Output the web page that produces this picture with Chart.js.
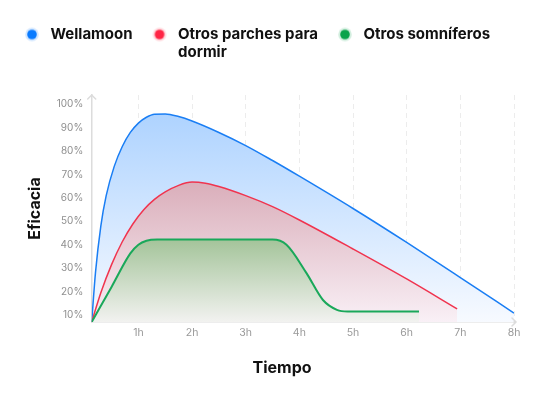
<!DOCTYPE html>
<html lang="es">
<head>
<meta charset="utf-8">
<title>Eficacia</title>
<script src="https://cdn.jsdelivr.net/npm/chart.js@4.4.1/dist/chart.umd.min.js"></script>
<style>
  html, body { margin: 0; padding: 0; background: #ffffff; }
  #wrap { width: 550px; height: 396px; position: relative; }
</style>
</head>
<body>
<div id="wrap"><canvas id="efficacyChart"></canvas></div>
<script>
// hours after taking it / efficacy in %
const wellamoonHours = [0.13, 0.2, 0.3, 0.4, 0.55, 0.7, 0.85, 1.0, 1.15, 1.3, 1.5, 1.75, 2, 2.5, 3, 3.5, 4, 5, 6, 7, 8];
const wellamoonValues = [7, 28, 48, 61, 73.5, 82, 88, 92, 94.5, 95.8, 95.9, 94.8, 92.9, 88, 82.4, 76, 69.3, 55.5, 41, 26, 10.8];

const patchHours = [0.13, 0.3, 0.5, 0.7, 0.9, 1.1, 1.3, 1.5, 1.75, 2, 2.25, 2.5, 3, 3.5, 4, 5, 6, 6.94];
const patchValues = [7, 19.5, 31.5, 41.3, 49, 55, 59.4, 62.6, 65.4, 66.8, 66.3, 64.9, 61, 56.3, 50.6, 38.2, 25.4, 12.6];

const pillHours = [0.13, 0.5, 0.85, 1.0, 1.15, 1.35, 3.5, 3.76, 4.13, 4.44, 4.7, 4.9, 6.23];
const pillValues = [7, 22, 36.3, 40, 41.7, 42.2, 42.2, 40, 28, 16.4, 12.2, 11.5, 11.5];

// the second label runs over two lines; it is measured by its longest line
const patchLabel = ['Otros parches para', 'dormir'];
patchLabel.toString = () => 'Otros parches para';
const seriesLabels = ['Wellamoon', patchLabel, 'Otros somníferos'];
const hourTicks = [1, 2, 3, 4, 5, 6, 7, 8];
const percentTicks = [10, 20, 30, 40, 50, 60, 70, 80, 90, 100];

const toPoints = (xs, ys) => xs.map((x, i) => ({ x: x, y: ys[i] }));

// legend dot with a soft halo
const makeDot = (color, halo) => {
    const c = document.createElement('canvas');
    c.width = 16; c.height = 16;
    const g = c.getContext('2d');
    g.fillStyle = halo;
    g.beginPath(); g.arc(8, 8, 6.8, 0, Math.PI * 2); g.fill();
    g.fillStyle = color;
    g.beginPath(); g.arc(8, 8, 4.8, 0, Math.PI * 2); g.fill();
    return c;
};

// vertical gradient from the top of a series down to the axis
const areaFill = (values, topColor, bottomColor) => (context) => {
    const chart = context.chart;
    const { ctx, chartArea, scales } = chart;
    if (!chartArea) return topColor;
    const top = scales.y.getPixelForValue(Math.max(...values));
    const grad = ctx.createLinearGradient(0, top, 0, chartArea.bottom);
    grad.addColorStop(0, topColor);
    grad.addColorStop(1, bottomColor);
    return grad;
};

const legendSpace = {
    id: 'legendSpace',
    beforeInit(chart) {
        const fit = chart.legend.fit;
        chart.legend.fit = function () {
            fit.call(this);
            this.height = 84;
        };
    }
};

// axis arrows and the x title
const axisExtras = {
    id: 'axisExtras',
    afterDraw(chart) {
        const { ctx, chartArea } = chart;
        ctx.save();
        ctx.strokeStyle = '#dcdcdc';
        ctx.lineWidth = 1.5;
        ctx.lineCap = 'round';
        ctx.beginPath();
        ctx.moveTo(chartArea.right, chartArea.bottom);
        ctx.lineTo(chartArea.right + 2, chartArea.bottom);
        ctx.moveTo(chartArea.right - 2, chartArea.bottom - 4);
        ctx.lineTo(chartArea.right + 2, chartArea.bottom);
        ctx.lineTo(chartArea.right - 2, chartArea.bottom + 4);
        ctx.moveTo(chartArea.left - 4, chartArea.top + 4);
        ctx.lineTo(chartArea.left, chartArea.top);
        ctx.lineTo(chartArea.left + 4, chartArea.top + 4);
        ctx.stroke();

        ctx.fillStyle = '#111111';
        ctx.font = '700 16px Inter, "Liberation Sans", sans-serif';
        ctx.textAlign = 'center';
        ctx.textBaseline = 'middle';
        ctx.fillText('Tiempo', 282, 368);
        ctx.restore();
    }
};

const ctx = document.getElementById('efficacyChart').getContext('2d');
const efficacyChart = new Chart(ctx, {
    type: 'line',
    data: {
        datasets: [
            {
                label: seriesLabels[0],
                data: toPoints(wellamoonHours, wellamoonValues),
                borderColor: '#1a7ef4',
                backgroundColor: areaFill(wellamoonValues, 'rgb(174,211,255)', 'rgb(247,250,255)'),
                borderWidth: 1.5,
                fill: 'origin',
                order: 2,
                pointRadius: 0,
                pointStyle: makeDot('#0a7bff', 'rgba(10,123,255,0.18)')
            },
            {
                label: seriesLabels[1],
                data: toPoints(patchHours, patchValues),
                borderColor: '#f0344f',
                backgroundColor: areaFill(patchValues, 'rgb(218,174,186)', 'rgb(249,240,246)'),
                borderWidth: 1.5,
                fill: 'origin',
                order: 1,
                pointRadius: 0,
                pointStyle: makeDot('#ff2545', 'rgba(255,37,69,0.18)')
            },
            {
                label: seriesLabels[2],
                data: toPoints(pillHours, pillValues),
                borderColor: '#1aa85a',
                backgroundColor: areaFill(pillValues, 'rgb(164,196,154)', 'rgb(242,242,240)'),
                borderWidth: 2,
                fill: 'origin',
                order: 0,
                pointRadius: 0,
                pointStyle: makeDot('#0aa34b', 'rgba(10,163,75,0.18)')
            }
        ]
    },
    options: {
        responsive: true,
        maintainAspectRatio: false,
        animation: false,
        layout: {
            padding: { top: 11, left: 5, right: 36, bottom: 0 }
        },
        elements: {
            line: { cubicInterpolationMode: 'monotone' }
        },
        scales: {
            x: {
                type: 'linear',
                min: 0.13,
                max: 8,
                afterBuildTicks: (scale) => { scale.ticks = hourTicks.map(v => ({ value: v })); },
                afterFit: (scale) => { scale.height = 74; },
                ticks: {
                    callback: (v) => v + 'h',
                    color: '#999999',
                    font: { family: 'Inter', size: 10.5 },
                    padding: 5,
                    maxRotation: 0
                },
                grid: {
                    color: '#ececec',
                    lineWidth: 1,
                    drawTicks: false
                },
                border: { display: true, color: '#dcdcdc', width: 1.5, dash: [5, 4] }
            },
            y: {
                min: 7,
                max: 104,
                afterBuildTicks: (scale) => { scale.ticks = percentTicks.map(v => ({ value: v })); },
                afterFit: (scale) => { scale.width = 86.7; },
                title: {
                    display: true,
                    text: 'Eficacia',
                    color: '#111111',
                    font: { family: 'Inter', size: 16, weight: '700' },
                    padding: { top: 21, bottom: 0 }
                },
                ticks: {
                    callback: (v) => v + '%',
                    color: '#8f8f8f',
                    font: { family: 'Inter', size: 10 },
                    padding: 8.5
                },
                grid: { display: false, drawTicks: false },
                border: { display: true, color: '#dcdcdc', width: 1.5 }
            }
        },
        plugins: {
            legend: {
                display: true,
                position: 'top',
                align: 'start',
                labels: {
                    usePointStyle: true,
                    pointStyleWidth: 22,
                    boxHeight: 15,
                    padding: 16,
                    color: '#111111',
                    font: { family: 'Inter', size: 15, weight: '700' },
                    sort: (a, b) => a.datasetIndex - b.datasetIndex
                }
            },
            tooltip: { enabled: false }
        }
    },
    plugins: [legendSpace, axisExtras]
});
</script>
</body>
</html>
